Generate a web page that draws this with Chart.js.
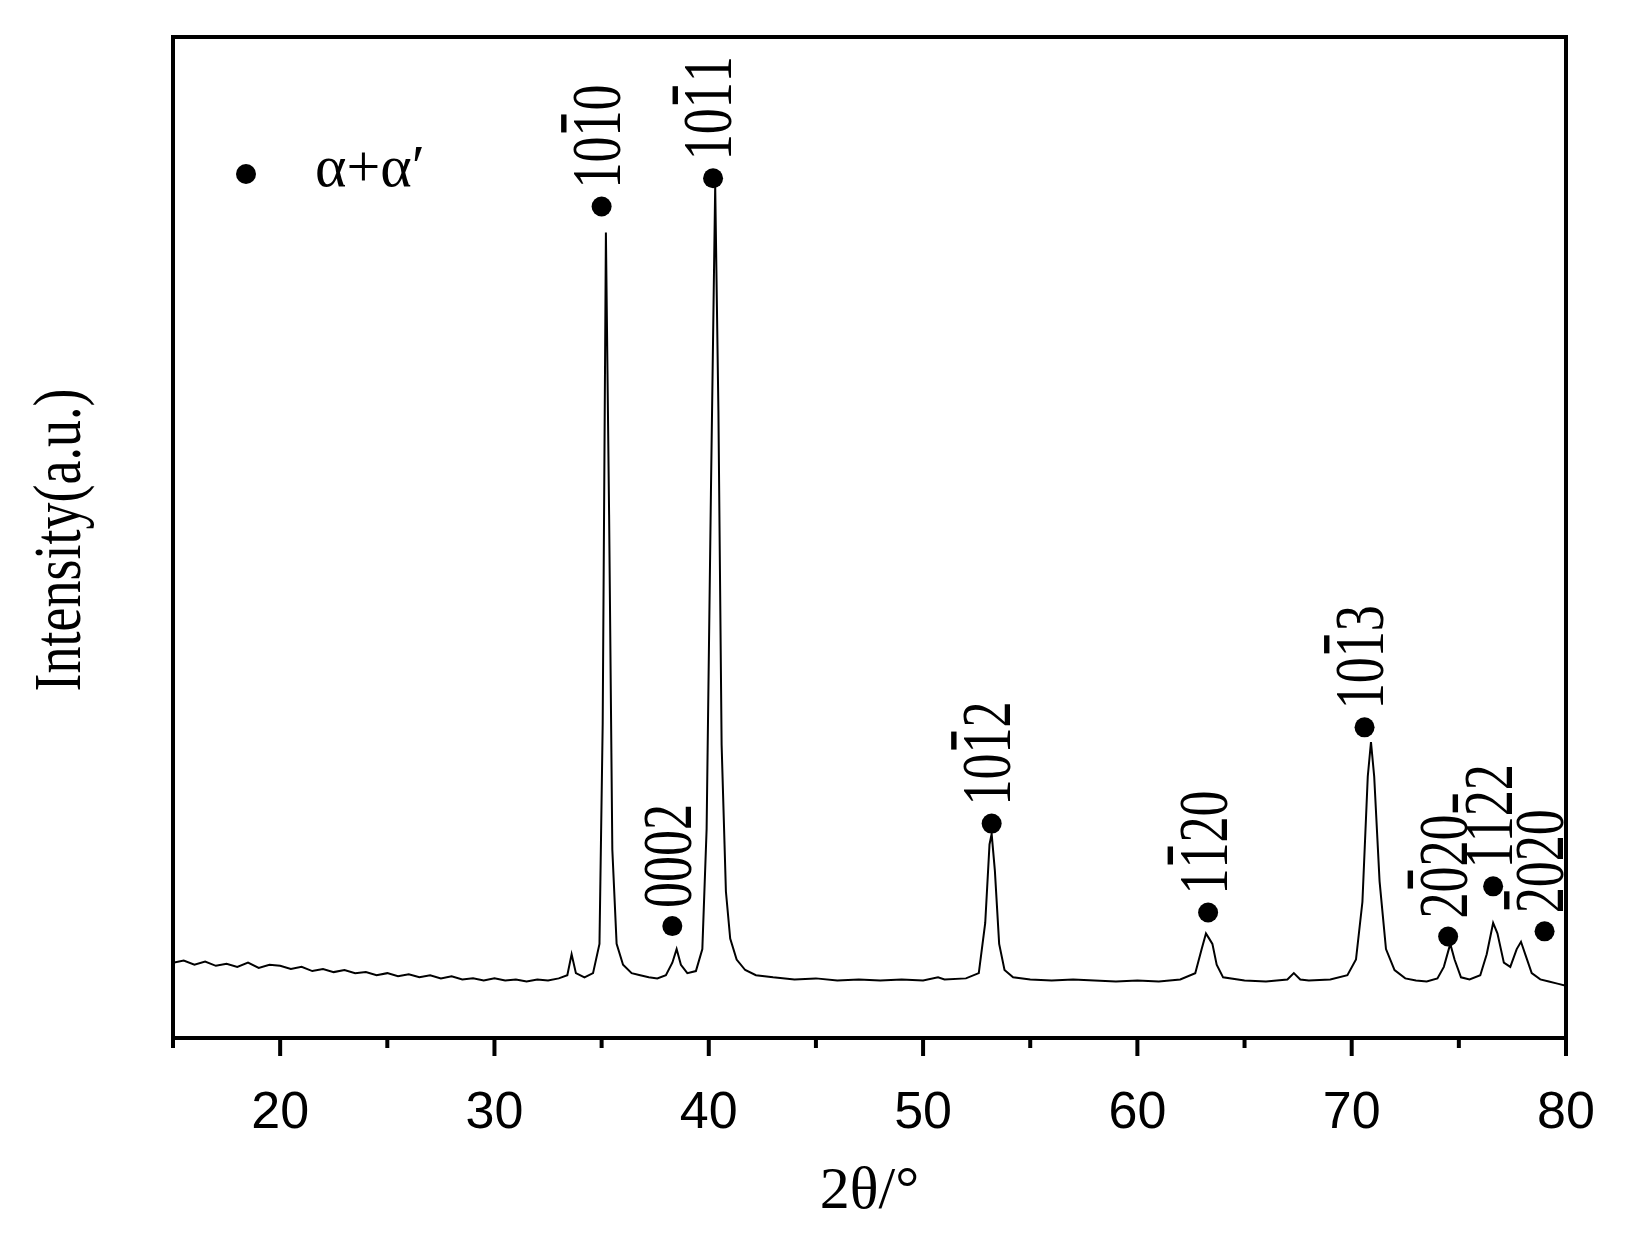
<!DOCTYPE html>
<html><head><meta charset="utf-8">
<script src="https://cdn.jsdelivr.net/npm/chart.js@4"></script>
<style>html,body{margin:0;background:#fff}#wrap{width:1636px;height:1241px}</style>
</head><body><div id="wrap"><canvas id="c"></canvas></div>
<script>
// XRD pattern, 2θ vs intensity (arbitrary units)
const twoTheta = [15,15.5,16,16.5,17,17.5,18,18.5,19,19.5,20,20.5,21,21.5,22,22.5,23,23.5,24,24.5,25,25.5,26,26.5,27,27.5,28,28.5,29,29.5,30,30.5,31,31.5,32,32.5,33,33.4,33.6,33.8,34.2,34.6,34.9,35.05,35.2,35.35,35.5,35.7,36,36.4,36.8,37.2,37.6,38,38.3,38.5,38.7,39,39.4,39.7,39.9,40.1,40.3,40.45,40.6,40.8,41,41.3,41.7,42.2,43,44,45,46,47,48,49,50,50.7,51,52,52.6,52.9,53.1,53.2,53.35,53.55,53.8,54.2,55,56,57,58,59,60,61,62,62.7,63,63.2,63.35,63.5,63.7,64,65,66,67,67.3,67.6,68,69,69.8,70.2,70.5,70.75,70.9,71.05,71.3,71.6,72,72.5,73,73.5,74,74.3,74.6,74.8,75.1,75.5,76,76.3,76.6,76.8,77.1,77.4,77.7,77.9,78.1,78.4,78.8,79.2,79.6,80];
const intensity = [72,74,70,73,69,71,68,72,67,70,69,66,68,64,66,63,65,62,63,60,62,59,61,58,60,57,59,56,57,55,57,55,56,54,56,55,57,60,80,62,58,62,90,300,770,500,180,90,70,62,60,58,57,60,72,85,70,62,64,85,200,520,815,600,280,140,95,75,65,60,58,56,57,55,56,55,56,55,58,56,57,62,110,185,195,160,90,65,58,56,55,56,55,54,55,54,56,62,85,100,95,90,70,58,55,54,56,62,56,55,56,60,75,130,250,283,250,150,85,65,57,55,54,57,68,90,75,58,56,60,80,110,100,72,68,85,92,80,62,56,54,52,50];

// peak markers and Miller-Bravais labels ("-" puts a bar over the next digit)
const peakX = [35.0, 38.3, 40.2, 53.2, 63.3, 70.6, 74.5, 76.6, 79.0];
const peakY = [795, 107, 822, 205, 120, 297, 97, 145, 102];
const peakLabel = ["10-10", "0002", "10-11", "10-12", "1-120", "10-13", "2-020", "11-22", "-2020"];

const xTicks = [20, 30, 40, 50, 60, 70, 80];

const marks = {
  id: "marks",
  afterDraw(chart) {
    const { ctx, chartArea: a, scales: { x, y } } = chart;
    ctx.save();
    ctx.fillStyle = "#000"; ctx.strokeStyle = "#000";
    // frame
    ctx.lineWidth = 4;
    ctx.strokeRect(a.left, a.top, a.right - a.left, a.bottom - a.top);
    // ticks
    for (let v = 15; v <= 80; v += 5) {
      const px = x.getPixelForValue(v);
      const len = v % 10 === 0 ? 18 : 10;
      ctx.lineWidth = 4;
      ctx.beginPath(); ctx.moveTo(px, a.bottom); ctx.lineTo(px, a.bottom + len); ctx.stroke();
    }
    // peak dots + labels
    peakX.forEach((v, i) => {
      const px = x.getPixelForValue(v), py = y.getPixelForValue(peakY[i]);
      ctx.beginPath(); ctx.arc(px, py, 10, 0, Math.PI * 2); ctx.fill();
      ctx.save();
      ctx.translate(px, py - 18);
      ctx.rotate(-Math.PI / 2);
      ctx.scale(1, 1.35);
      ctx.font = "52px 'Liberation Serif'";
      ctx.textBaseline = "middle";
      let cx = 0, bar = false;
      for (const ch of peakLabel[i]) {
        if (ch === "-") { bar = true; continue; }
        const w = ctx.measureText(ch).width;
        ctx.fillText(ch, cx, 0);
        if (bar) ctx.fillRect(cx + 4, -30, w - 8, 4);
        bar = false; cx += w;
      }
      ctx.restore();
    });
    // legend
    ctx.beginPath(); ctx.arc(246, 174, 10, 0, Math.PI * 2); ctx.fill();
    ctx.font = "60px 'Liberation Serif'";
    ctx.textBaseline = "middle";
    ctx.fillText("α+α′", 315, 170);
    // axis titles
    ctx.font = "60px 'Liberation Serif'";
    ctx.textAlign = "center";
    ctx.fillText("2θ/°", (a.left + a.right) / 2, 1192);
    ctx.save();
    ctx.translate(62, 540); ctx.rotate(-Math.PI / 2); ctx.scale(1, 1.25);
    ctx.font = "54px 'Liberation Serif'";
    ctx.fillText("Intensity(a.u.)", 0, 0);
    ctx.restore();
    ctx.restore();
  },
};

new Chart(document.getElementById("c"), {
  type: "line",
  data: { datasets: [{
    data: twoTheta.map((t, i) => ({ x: t, y: intensity[i] })),
    borderColor: "#000", borderWidth: 2, pointRadius: 0, tension: 0,
  }] },
  options: {
    responsive: true, maintainAspectRatio: false, animation: false,
    layout: { padding: { left: 173, right: 70, top: 37, bottom: 0 } },
    plugins: { legend: { display: false }, tooltip: { enabled: false } },
    scales: {
      x: {
        type: "linear", min: 15, max: 80,
        afterFit: (s) => { s.height = 203; },
        grid: { display: false }, border: { display: false },
        ticks: {
          stepSize: 5, padding: 36, color: "#000", maxRotation: 0, autoSkip: false,
          font: { family: "'Liberation Sans'", size: 52 },
          callback: (v) => (xTicks.includes(v) ? String(v) : ""),
        },
      },
      y: { display: false, min: 0, max: 957 },
    },
  },
  plugins: [marks],
});
</script></body></html>
